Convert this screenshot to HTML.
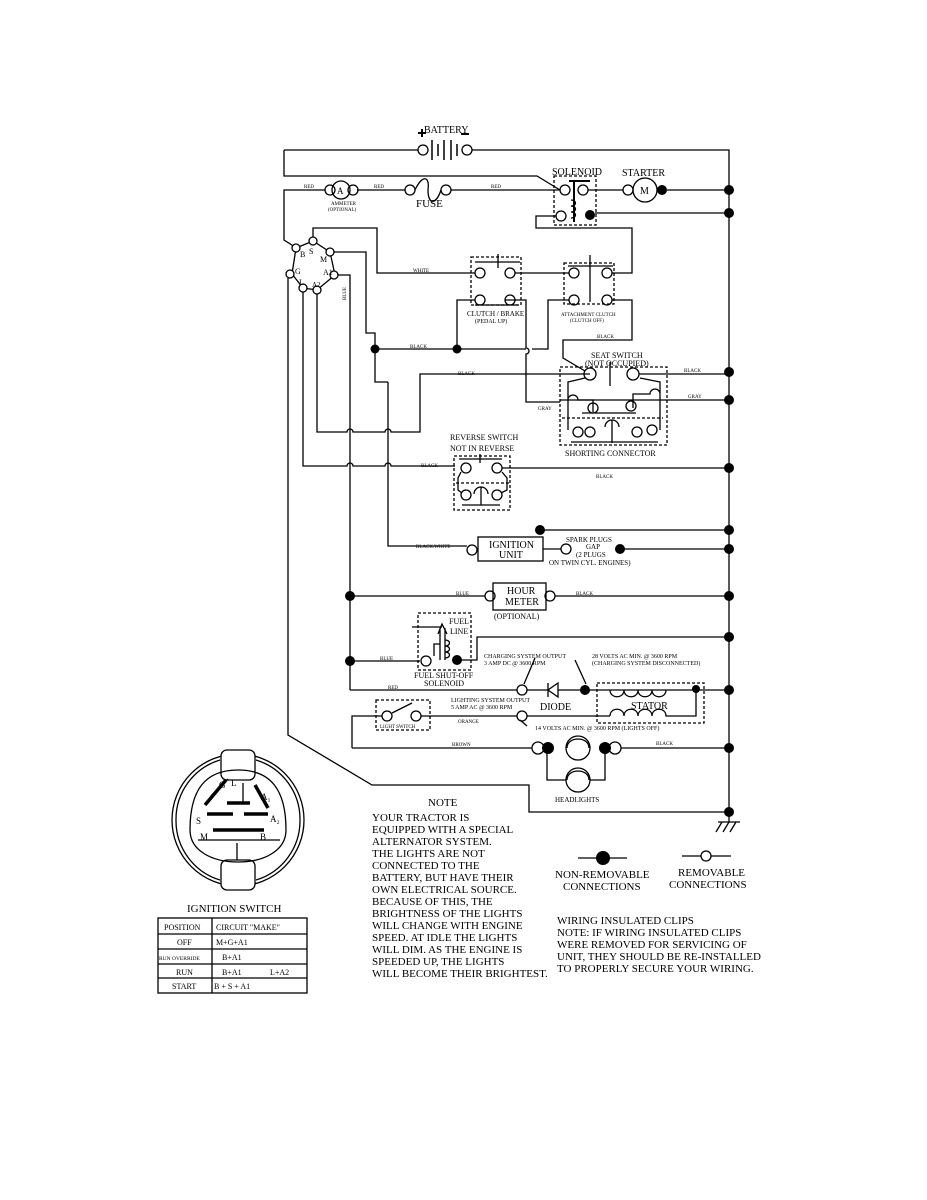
<!DOCTYPE html>
<html><head><meta charset="utf-8"><style>
html,body{margin:0;padding:0;background:#fff;}
svg{display:block}
text{font-family:"Liberation Serif",serif;fill:#000}
</style></head><body>
<svg width="927" height="1200" viewBox="0 0 927 1200" xmlns="http://www.w3.org/2000/svg">
<g fill="none" stroke="#000" stroke-width="1.3">
<!-- battery -->
<path d="M284 150 H418 M472 150 H729 V812"/>
<circle cx="423" cy="150" r="5"/><circle cx="467" cy="150" r="5"/>
<path d="M432 140V160 M438 144V156 M444 140V160 M451 140V160 M457 144V156" stroke-width="1.5"/>
<path d="M284 150 V176 H537 L560 190"/>
<!-- red line -->
<path d="M295 247 L284 240 V190 H325 M357 190 H405 M451 190 H560"/>
<circle cx="330" cy="190" r="5"/><circle cx="341" cy="190" r="9"/><circle cx="353" cy="190" r="5"/>
<circle cx="410" cy="190" r="5"/><circle cx="446" cy="190" r="5"/>
<path d="M415 190 C422 175 430 175 428 190 C428 205 436 205 441 190"/>
<!-- solenoid -->
<rect x="554" y="176" width="42" height="49" stroke-dasharray="3,2"/>
<circle cx="565" cy="190" r="5"/><circle cx="583" cy="190" r="5"/><circle cx="561" cy="216" r="5"/>
<path d="M574 180V222 M569 181H590" stroke-width="2"/>
<path d="M571 200 c6 0 6 6 0 6 c6 0 6 6 0 6 c6 0 6 6 0 6"/>
<path d="M588 190 H623 M667 190 H729 M595 213 H729"/>
<circle cx="628" cy="190" r="5"/><circle cx="645" cy="190" r="12"/>
<path d="M556 216 H536 V228 H632 V273 H612"/>
<!-- ignition switch polygon -->
<path d="M296 248 L313 241 L330 252 L335 275 L317 290 L303 288 L292 274 Z"/>
<g fill="#fff"><circle cx="296" cy="248" r="4"/><circle cx="313" cy="241" r="4"/><circle cx="330" cy="252" r="4"/><circle cx="334" cy="275" r="4"/><circle cx="317" cy="290" r="4"/><circle cx="303" cy="288" r="4"/><circle cx="290" cy="274" r="4"/></g>
<path d="M313 237 V228 H377 V273 H475"/>
<path d="M334 252 H366 V333 H375 V349"/>
<path d="M338 275 H350 V690"/>
<path d="M303 292 V466 H347 a3 3 0 0 1 6 0 H385 a3 3 0 0 1 6 0 H455"/>
<path d="M317 294 V432 H347 a3 3 0 0 1 6 0 H385 a3 3 0 0 1 6 0 H420 V374 H590"/>
<path d="M288 278 V735 L372 785 H529 V812 H729"/>
<!-- clutch/brake -->
<rect x="471" y="257" width="50" height="48" stroke-dasharray="3,2"/>
<circle cx="480" cy="273" r="5"/><circle cx="510" cy="273" r="5"/><circle cx="480" cy="300" r="5"/><circle cx="510" cy="300" r="5"/>
<path d="M475 262H520 M498 254V268 M475 305H518"/>
<path d="M515 273 H569"/>
<path d="M375 349 H457 V300 H475 M505 300 H526 V348 a3 3 0 0 1 0 6 V402 H560"/>
<path d="M457 349 H526 M532 349 H548 V300 H569"/>
<!-- attachment clutch -->
<rect x="564" y="263" width="50" height="41" stroke-dasharray="3,2"/>
<circle cx="574" cy="273" r="5"/><circle cx="607" cy="273" r="5"/><circle cx="574" cy="300" r="5"/><circle cx="607" cy="300" r="5"/>
<path d="M568 266H613 M590 255V302"/>
<path d="M612 300 H632 V340 H563 V358 L585 371"/>
<!-- seat switch -->
<rect x="560" y="367" width="107" height="78" stroke-dasharray="3,2"/>
<circle cx="590" cy="374" r="6"/><circle cx="633" cy="374" r="6"/>
<path d="M610 362V386 M639 374 H729 M560 400 H729"/>
<path d="M585 378 L568 382 V430 M640 378 L660 382 V430 M568 400 a5 5 0 0 1 10 0 H593 V412 M660 394 a5 5 0 0 0 -10 0 H633 V408"/>
<circle cx="593" cy="408" r="5"/><circle cx="631" cy="406" r="5"/>
<path d="M582 413 H636" />
<path d="M562 418 H663" stroke-dasharray="3,2"/>
<path d="M612 443 V420 M605 427 a7 7 0 0 1 14 0 M571 442 H658"/>
<circle cx="578" cy="432" r="5"/><circle cx="590" cy="432" r="5"/><circle cx="637" cy="432" r="5"/><circle cx="652" cy="430" r="5"/>
<!-- reverse switch -->
<rect x="454" y="456" width="56" height="54" stroke-dasharray="3,2"/>
<circle cx="466" cy="468" r="5"/><circle cx="497" cy="468" r="5"/><circle cx="466" cy="495" r="5"/><circle cx="497" cy="495" r="5"/>
<path d="M459 459H502 M480 454V463 M502 468 H729 M461 472 L458 478 V490 L462 493 M502 472 L507 478 V490 L501 493" />
<path d="M456 483 H509" stroke-dasharray="3,2"/>
<path d="M481 505 V487 M474 494 a7 7 0 0 1 14 0 M462 505 H500"/>
<!-- ignition unit -->
<path d="M388 382 V546 H467"/>
<path d="M375 349 V382 H388"/>
<rect x="478" y="537" width="65" height="24"/>
<circle cx="472" cy="550" r="5"/><circle cx="566" cy="549" r="5"/>
<path d="M543 549 H561 M540 530 H729 M620 549 H729"/>
<!-- hour meter -->
<path d="M350 596 H485 M555 596 H729"/>
<circle cx="490" cy="596" r="5"/><circle cx="550" cy="596" r="5"/>
<rect x="493" y="583" width="53" height="27"/>
<!-- fuel solenoid -->
<rect x="418" y="613" width="53" height="57" stroke-dasharray="3,2"/>
<path d="M412 627 H442 M440 660 V628 M445 660 V628 M438 634 L442 624 L447 634"/>
<path d="M445 640 c6 0 6 6 0 6 c6 0 6 6 0 6 c6 0 6 6 0 6 M434 656 V644 H440"/>
<path d="M350 661 H420 M457 660 H477 V637 H729"/>
<circle cx="426" cy="661" r="5"/>
<!-- charging -->
<path d="M350 690 H517 M527 690 H548 M558 690 H729"/>
<circle cx="522" cy="690" r="5"/>
<path d="M548 683 V697 M558 683 V697 L548 690 Z"/>
<rect x="597" y="683" width="107" height="40" stroke-dasharray="3,2"/>
<path d="M610 690 c0 9 14 9 14 0 c0 9 14 9 14 0 c0 9 14 9 14 0 c0 9 14 9 14 0"/>
<path d="M610 716 c0 -9 14 -9 14 0 c0 -9 14 -9 14 0 c0 -9 14 -9 14 0 c0 -9 14 -9 14 0 H696 V690"/>
<path d="M535 658 L524 684 M575 660 L586 684 M527 726 L520 720"/>
<!-- light switch -->
<rect x="376" y="700" width="54" height="30" stroke-dasharray="3,2"/>
<path d="M352 748 V716 H382 M392 713 L412 703 M421 716 H517 M527 716 H610"/>
<circle cx="387" cy="716" r="5"/><circle cx="416" cy="716" r="5"/><circle cx="522" cy="716" r="5"/>
<!-- headlights -->
<path d="M352 748 H532 M621 748 H729"/>
<circle cx="538" cy="748" r="6"/><circle cx="615" cy="748" r="6"/>
<circle cx="578" cy="748" r="12"/><circle cx="578" cy="780" r="12"/>
<path d="M567 748 c0 -12 22 -12 22 0 M567 780 c0 -12 22 -12 22 0 M547 748 V780 H566 M590 780 H605 V748"/>
<!-- ground -->
<path d="M729 812 V822 M718 822 H740 M722 822 L716 832 M729 822 L723 832 M736 822 L730 832"/>
<!-- legend -->
<path d="M578 858 H627 M682 856 H701 M711 856 H731"/>
<circle cx="706" cy="856" r="5"/>
<!-- ignition switch drawing -->
<circle cx="238" cy="820" r="66"/>
<path d="M176 820 A62 62 0 0 1 220 760 M256 760 A62 62 0 0 1 300 820 A62 62 0 0 1 256 880 M220 880 A62 62 0 0 1 176 820"/>
<rect x="221" y="750" width="34" height="30" rx="6" fill="#fff"/>
<rect x="221" y="860" width="34" height="30" rx="6" fill="#fff"/>
<path d="M190 830 C190 790 205 770 238 770 C271 770 286 790 286 830 C286 850 265 862 238 862 C211 862 190 850 190 830 Z"/>
<path d="M205 805 L226 780 M255 785 L268 808 M227 803 H250 M207 814 H233 M244 814 H268 M213 830 H264" stroke-width="3.5"/>
<path d="M211 796 L228 779 M243 783 V804 M237 843 V860 M198 840 H280"/>
<!-- table -->
<rect x="158" y="918" width="149" height="75"/>
<path d="M158 934 H307 M158 949 H307 M158 964 H307 M158 978 H307 M212 918 V993"/>
</g>
<g fill="#000">
<circle cx="662" cy="190" r="5"/><circle cx="729" cy="190" r="5"/><circle cx="590" cy="215" r="5"/><circle cx="729" cy="213" r="5"/>
<circle cx="375" cy="349" r="4.5"/><circle cx="457" cy="349" r="4.5"/>
<circle cx="729" cy="372" r="5"/><circle cx="729" cy="400" r="5"/><circle cx="729" cy="468" r="5"/>
<circle cx="540" cy="530" r="5"/><circle cx="729" cy="530" r="5"/><circle cx="620" cy="549" r="5"/><circle cx="729" cy="549" r="5"/>
<circle cx="350" cy="596" r="5"/><circle cx="729" cy="596" r="5"/><circle cx="350" cy="661" r="5"/><circle cx="457" cy="660" r="5"/><circle cx="729" cy="637" r="5"/>
<circle cx="585" cy="690" r="5"/><circle cx="696" cy="689" r="4"/><circle cx="729" cy="690" r="5"/>
<circle cx="548" cy="748" r="6"/><circle cx="605" cy="748" r="6"/><circle cx="729" cy="748" r="5"/><circle cx="729" cy="812" r="5"/>
<circle cx="603" cy="858" r="7"/>
<rect x="418" y="132" width="8" height="2"/><rect x="421" y="129" width="2" height="8"/><rect x="461" y="133" width="8" height="2"/>
</g>
<g font-size="10">
<text x="424" y="133">BATTERY</text>
<text x="552" y="175">SOLENOID</text><text x="622" y="176">STARTER</text>
<text x="640" y="194" font-size="10">M</text><text x="337" y="194" font-size="9">A</text>
<text x="416" y="207" font-size="11">FUSE</text>
<text x="304" y="188" font-size="5">RED</text><text x="374" y="188" font-size="5">RED</text><text x="491" y="188" font-size="5">RED</text>
<text x="331" y="205" font-size="5">AMMETER</text><text x="328" y="211" font-size="5">(OPTIONAL)</text>
<text x="300" y="257" font-size="8">B</text><text x="309" y="254" font-size="8">S</text><text x="320" y="262" font-size="8">M</text><text x="323" y="275" font-size="8">A1</text><text x="312" y="287" font-size="7">A2</text><text x="299" y="285" font-size="8">L</text><text x="295" y="274" font-size="8">G</text>
<text x="413" y="272" font-size="5">WHITE</text>
<text transform="translate(346,300) rotate(-90)" font-size="5">BLUE</text>
<text x="467" y="316" font-size="7">CLUTCH / BRAKE</text><text x="475" y="323" font-size="6">(PEDAL UP)</text>
<text x="561" y="316" font-size="5">ATTACHMENT CLUTCH</text><text x="570" y="322" font-size="5">(CLUTCH OFF)</text>
<text x="597" y="338" font-size="5">BLACK</text><text x="410" y="348" font-size="5">BLACK</text>
<text x="591" y="358" font-size="8">SEAT SWITCH</text><text x="585" y="366" font-size="8">(NOT OCCUPIED)</text>
<text x="458" y="375" font-size="5">BLACK</text><text x="684" y="372" font-size="5">BLACK</text><text x="688" y="398" font-size="5">GRAY</text><text x="538" y="410" font-size="5">GRAY</text>
<text x="565" y="456" font-size="8">SHORTING CONNECTOR</text>
<text x="450" y="440" font-size="8">REVERSE SWITCH</text><text x="450" y="451" font-size="8">NOT IN REVERSE</text>
<text x="421" y="467" font-size="5">BLACK</text><text x="596" y="478" font-size="5">BLACK</text>
<text x="416" y="548" font-size="5">BLACK/WHITE</text>
<text x="489" y="548" font-size="10">IGNITION</text><text x="499" y="558" font-size="10">UNIT</text>
<text x="566" y="542" font-size="7">SPARK PLUGS</text><text x="586" y="549" font-size="7">GAP</text><text x="576" y="557" font-size="7">(2 PLUGS</text><text x="549" y="565" font-size="7">ON TWIN CYL. ENGINES)</text>
<text x="456" y="595" font-size="5">BLUE</text><text x="576" y="595" font-size="5">BLACK</text>
<text x="507" y="594" font-size="10">HOUR</text><text x="505" y="605" font-size="10">METER</text><text x="494" y="619" font-size="8">(OPTIONAL)</text>
<text x="449" y="624" font-size="8">FUEL</text><text x="450" y="634" font-size="8">LINE</text>
<text x="380" y="660" font-size="5">BLUE</text>
<text x="414" y="678" font-size="8">FUEL SHUT-OFF</text><text x="424" y="686" font-size="8">SOLENOID</text>
<text x="484" y="658" font-size="6">CHARGING SYSTEM OUTPUT</text><text x="484" y="665" font-size="6">3 AMP DC @ 3600 RPM</text>
<text x="592" y="658" font-size="6">28 VOLTS AC MIN. @ 3600 RPM</text><text x="592" y="665" font-size="6">(CHARGING SYSTEM DISCONNECTED)</text>
<text x="388" y="689" font-size="5">RED</text>
<text x="451" y="702" font-size="6">LIGHTING SYSTEM OUTPUT</text><text x="451" y="709" font-size="6">5 AMP AC @ 3600 RPM</text>
<text x="540" y="710" font-size="10">DIODE</text><text x="631" y="709" font-size="10">STATOR</text>
<text x="380" y="728" font-size="5">LIGHT SWITCH</text><text x="458" y="723" font-size="5">ORANGE</text>
<text x="535" y="730" font-size="6">14 VOLTS AC MIN. @ 3600 RPM (LIGHTS OFF)</text>
<text x="452" y="746" font-size="5">BROWN</text><text x="656" y="745" font-size="5">BLACK</text>
<text x="555" y="802" font-size="7">HEADLIGHTS</text>
<text x="219" y="788" font-size="9" font-family="Liberation Sans">G</text><text x="231" y="786" font-size="9" font-family="Liberation Sans">L</text>
<text x="261" y="800" font-size="9" font-family="Liberation Sans">A₁</text><text x="270" y="822" font-size="9" font-family="Liberation Sans">A₂</text>
<text x="196" y="824" font-size="9" font-family="Liberation Sans">S</text><text x="200" y="840" font-size="9" font-family="Liberation Sans">M</text><text x="260" y="840" font-size="9" font-family="Liberation Sans">B</text>
<text x="187" y="912" font-size="11">IGNITION SWITCH</text>
<text x="164" y="930" font-size="8">POSITION</text><text x="216" y="930" font-size="8">CIRCUIT   "MAKE"</text>
<text x="177" y="945" font-size="8">OFF</text><text x="216" y="945" font-size="8">M+G+A1</text>
<text x="159" y="960" font-size="5.5">RUN OVERRIDE</text><text x="222" y="960" font-size="8">B+A1</text>
<text x="176" y="975" font-size="8">RUN</text><text x="222" y="975" font-size="8">B+A1</text><text x="270" y="975" font-size="8">L+A2</text>
<text x="172" y="989" font-size="8">START</text><text x="214" y="989" font-size="8">B + S + A1</text>
</g>
<g font-size="11">
<text x="428" y="806">NOTE</text>
<text x="372" y="821">YOUR TRACTOR IS</text>
<text x="372" y="833">EQUIPPED WITH A SPECIAL</text>
<text x="372" y="845">ALTERNATOR SYSTEM.</text>
<text x="372" y="857">THE LIGHTS ARE NOT</text>
<text x="372" y="869">CONNECTED TO THE</text>
<text x="372" y="881">BATTERY, BUT HAVE THEIR</text>
<text x="372" y="893">OWN ELECTRICAL SOURCE.</text>
<text x="372" y="905">BECAUSE OF THIS, THE</text>
<text x="372" y="917">BRIGHTNESS OF THE LIGHTS</text>
<text x="372" y="929">WILL CHANGE WITH ENGINE</text>
<text x="372" y="941">SPEED. AT IDLE THE LIGHTS</text>
<text x="372" y="953">WILL DIM. AS THE ENGINE IS</text>
<text x="372" y="965">SPEEDED UP, THE LIGHTS</text>
<text x="372" y="977">WILL BECOME THEIR BRIGHTEST.</text>
<text x="555" y="878">NON-REMOVABLE</text><text x="563" y="890">CONNECTIONS</text>
<text x="678" y="876">REMOVABLE</text><text x="669" y="888">CONNECTIONS</text>
<text x="557" y="924">WIRING INSULATED CLIPS</text>
<text x="557" y="936">NOTE:  IF WIRING INSULATED CLIPS</text>
<text x="557" y="948">WERE REMOVED FOR SERVICING OF</text>
<text x="557" y="960">UNIT, THEY SHOULD BE RE-INSTALLED</text>
<text x="557" y="972">TO PROPERLY SECURE YOUR WIRING.</text>
</g>
</svg>
</body></html>
